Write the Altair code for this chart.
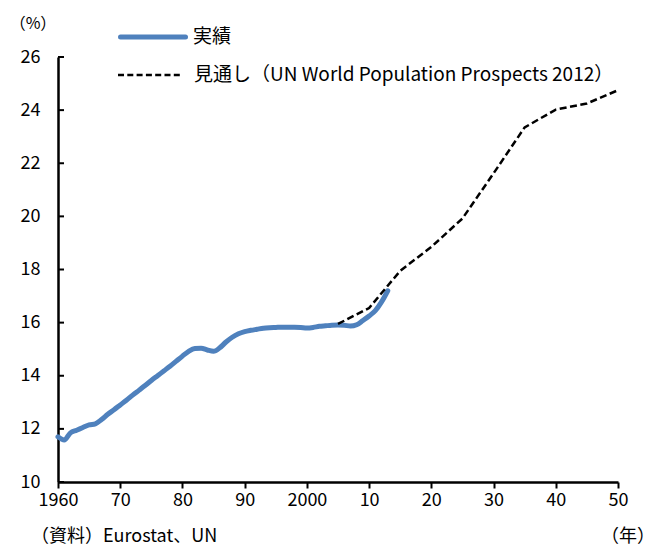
import altair as alt
import pandas as pd

# ---- data ----
actual_years = list(range(1960, 2014))
actual_values = [
    11.70, 11.58, 11.85, 11.95, 12.05, 12.15, 12.19, 12.35, 12.55, 12.72,
    12.90, 13.08, 13.27, 13.45, 13.63, 13.82, 14.00, 14.18, 14.36, 14.55,
    14.74, 14.92, 15.03, 15.04, 14.97, 14.92, 15.05, 15.27, 15.45, 15.58,
    15.66, 15.71, 15.75, 15.79, 15.81, 15.82, 15.83, 15.83, 15.83, 15.82,
    15.80, 15.82, 15.86, 15.88, 15.90, 15.91, 15.90, 15.87, 15.92, 16.08,
    16.25, 16.45, 16.78, 17.20,
]
proj_years = [2005, 2010, 2015, 2020, 2025, 2030, 2035, 2040, 2045, 2050]
proj_values = [15.95, 16.55, 17.95, 18.85, 19.92, 21.62, 23.35, 24.02, 24.25, 24.75]

x_ticks = [1960, 1970, 1980, 1990, 2000, 2010, 2020, 2030, 2040, 2050]
y_ticks = [10, 12, 14, 16, 18, 20, 22, 24, 26]

label_actual = "実績"
label_proj = "見通し（UN World Population Prospects 2012）"
unit_y = "（%）"
unit_x = "（年）"
source = "（資料）Eurostat、UN"

FONT = "Noto Sans CJK JP"
BLUE = "#4F81BD"
W, H = 560, 425

df_a = pd.DataFrame({"year": actual_years, "value": actual_values})
df_p = pd.DataFrame({"year": proj_years, "value": proj_values})
df_yt = pd.DataFrame({"tick": y_ticks})
dummy = pd.DataFrame({"a": [0]})

x_scale = alt.Scale(domain=[1960, 2050], nice=False, zero=False)
y_scale = alt.Scale(domain=[10, 26], nice=False, zero=False)

x_axis = alt.Axis(
    values=x_ticks,
    labelExpr="(datum.value == 1960 || datum.value == 2000) ? format(datum.value, 'd') : format(datum.value % 100, 'd')",
    title=None, grid=False,
    domainColor="black", domainWidth=2.5,
    tickColor="black", tickWidth=2, tickSize=6,
    labelPadding=3, labelFont=FONT, labelFontSize=18, labelColor="black",
    labelFlush=False, labelOverlap=False,
)
y_axis = alt.Axis(
    values=y_ticks, title=None, grid=False,
    domainColor="black", domainWidth=2.5,
    tickSize=0, labelPadding=18,
    labelFont=FONT, labelFontSize=18, labelColor="black",
    labelOverlap=False,
)

actual = alt.Chart(df_a).mark_line(
    color=BLUE, strokeWidth=5, interpolate="monotone", strokeCap="round", strokeJoin="round"
).encode(
    x=alt.X("year:Q", scale=x_scale, axis=x_axis),
    y=alt.Y("value:Q", scale=y_scale, axis=y_axis),
)

proj = alt.Chart(df_p).mark_line(
    color="black", strokeWidth=2.5, strokeDash=[7, 3.5]
).encode(
    x=alt.X("year:Q", scale=x_scale),
    y=alt.Y("value:Q", scale=y_scale),
)

yticks = alt.Chart(df_yt).mark_rule(color="black", strokeWidth=2).encode(
    y=alt.Y("tick:Q", scale=y_scale),
    x=alt.value(0),
    x2=alt.value(6),
)

leg_line1 = alt.Chart(dummy).mark_rule(color=BLUE, strokeWidth=5, strokeCap="round").encode(
    x=alt.value(62.5), x2=alt.value(127.5), y=alt.value(-20)
)
leg_line2 = alt.Chart(dummy).mark_rule(color="black", strokeWidth=2.5, strokeDash=[6, 3.3]).encode(
    x=alt.value(60), x2=alt.value(125), y=alt.value(18)
)


def txt(s, x, y, size=18, align="left"):
    return alt.Chart(dummy).mark_text(
        text=s, align=align, baseline="middle", font=FONT, fontSize=size, color="black"
    ).encode(x=alt.value(x), y=alt.value(y))


chart = alt.layer(
    actual, proj, yticks, leg_line1, leg_line2,
    txt(label_actual, 135, -20, size=19),
    txt(label_proj, 136, 18, size=19),
    txt(unit_y, -25, -33, size=16, align="center"),
    txt(source, -27, 480),
    txt(unit_x, 543, 480),
).properties(
    width=W, height=H,
    autosize=alt.AutoSizeParams(type="none"),
    padding={"left": 50, "top": 49, "right": 37, "bottom": 70},
    background="white",
).configure_view(stroke=None)

chart.save("out.html", embed_options={"renderer": "svg", "actions": False})
